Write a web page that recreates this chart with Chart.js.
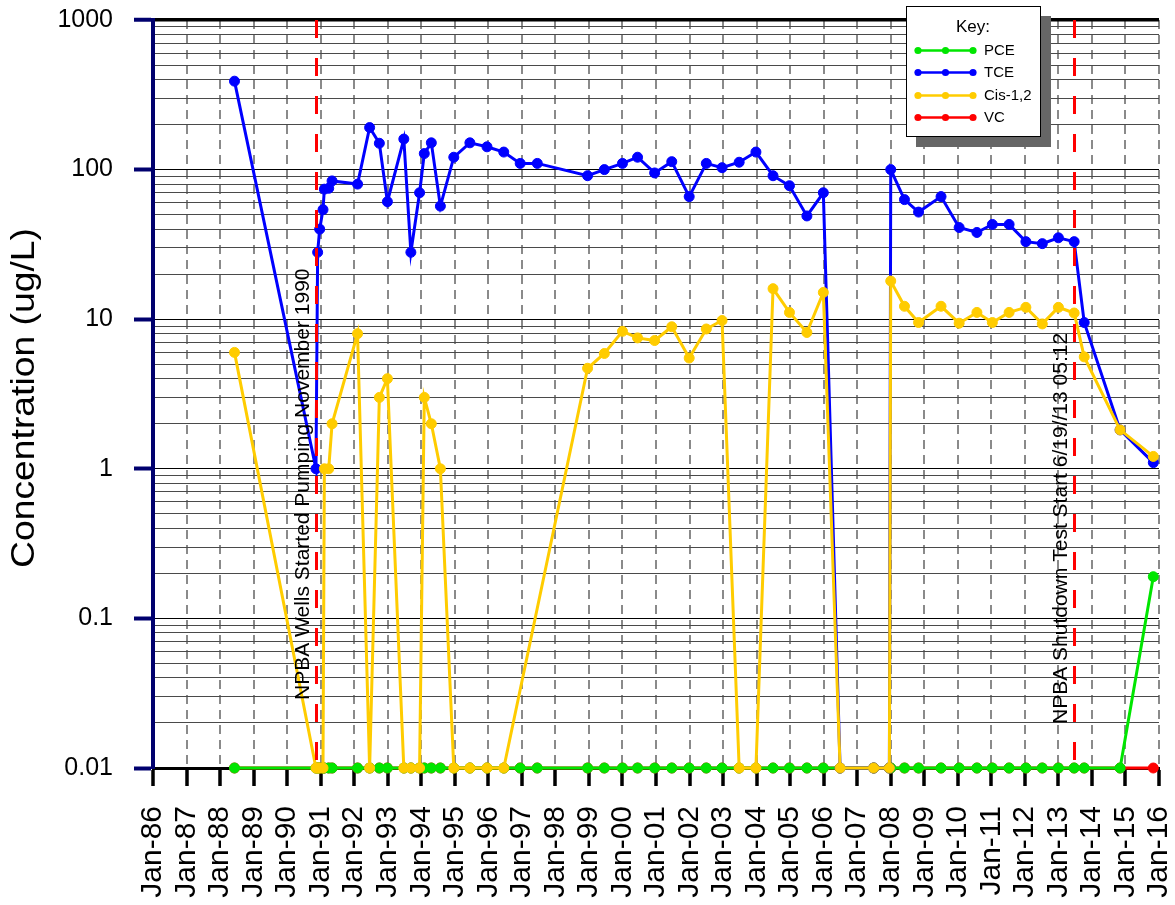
<!DOCTYPE html>
<html><head><meta charset="utf-8">
<script src="https://cdn.jsdelivr.net/npm/chart.js@4.4.1/dist/chart.umd.min.js"></script>
<style>html,body{margin:0;padding:0;background:#fff;}canvas{display:block;}</style>
</head><body>
<canvas id="c" width="1175" height="905" style="width:1175px;height:905px"></canvas>
<script>
// ---- data (decimal years) ----
const sampleDates = [1988.43, 1990.86, 1990.91, 1990.97, 1991.07, 1991.11, 1991.24, 1991.34, 1992.10, 1992.46,
  1992.75, 1992.99, 1993.48, 1993.69, 1993.95, 1994.09, 1994.30, 1994.57, 1994.97, 1995.45,
  1995.96, 1996.46, 1996.95, 1997.46, 1998.96, 1999.46, 2000.00, 2000.45, 2000.96, 2001.47,
  2001.99, 2002.50, 2002.97, 2003.48, 2003.98, 2004.49, 2004.98, 2005.50, 2005.99, 2006.49,
  2007.49, 2007.96, 2008.00, 2008.41, 2008.83, 2009.50, 2010.04, 2010.57, 2011.03, 2011.53,
  2012.03, 2012.52, 2013.00, 2013.47, 2013.77, 2014.84, 2015.83];
const pceValues = [0.01, 0.01, 0.01, 0.01, 0.01, 0.01, 0.01, 0.01, 0.01, 0.01,
  0.01, 0.01, 0.01, 0.01, 0.01, 0.01, 0.01, 0.01, 0.01, 0.01,
  0.01, 0.01, 0.01, 0.01, 0.01, 0.01, 0.01, 0.01, 0.01, 0.01,
  0.01, 0.01, 0.01, 0.01, 0.01, 0.01, 0.01, 0.01, 0.01, 0.01,
  0.01, 0.01, 0.01, 0.01, 0.01, 0.01, 0.01, 0.01, 0.01, 0.01,
  0.01, 0.01, 0.01, 0.01, 0.01, 0.01, 0.19];
const tceValues = [390, 1.0, 28, 40, 54, 74, 75, 84, 80, 191,
  150, 61, 160, 28, 70, 128, 151, 57, 121, 151,
  142, 131, 110, 110, 91, 100, 110, 121, 95, 113,
  66, 110, 103, 112, 131, 91, 78, 49, 70, 0.01,
  0.01, 0.01, 100, 63, 52, 66, 41, 38, 43, 43,
  33, 32, 35, 33, 9.5, 1.82, 1.1];
const cisValues = [6.0, 0.01, 0.01, 0.01, 0.01, 1.0, 1.0, 2.0, 8.0, 0.01,
  3.0, 4.0, 0.01, 0.01, 0.01, 3.0, 2.0, 1.0, 0.01, 0.01,
  0.01, 0.01, null, null, 4.7, 5.9, 8.3, 7.5, 7.2, 8.9,
  5.5, 8.6, 9.8, 0.01, 0.01, 16, 11.1, 8.15, 15.1, 0.01,
  0.01, 0.01, 18, 12.2, 9.5, 12.2, 9.4, 11.1, 9.5, 11.1,
  12, 9.3, 12, 11, 5.6, 1.82, 1.21];
const vcValues = [0.01, 0.01, 0.01, 0.01, 0.01, 0.01, 0.01, 0.01, 0.01, 0.01,
  0.01, 0.01, 0.01, 0.01, 0.01, 0.01, 0.01, 0.01, 0.01, 0.01,
  0.01, 0.01, 0.01, 0.01, 0.01, 0.01, 0.01, 0.01, 0.01, 0.01,
  0.01, 0.01, 0.01, 0.01, 0.01, 0.01, 0.01, 0.01, 0.01, 0.01,
  0.01, 0.01, 0.01, 0.01, 0.01, 0.01, 0.01, 0.01, 0.01, 0.01,
  0.01, 0.01, 0.01, 0.01, 0.01, 0.01, 0.01];
const seriesNames = ['PCE', 'TCE', 'Cis-1,2', 'VC'];
const xTickLabels = ['Jan-86','Jan-87','Jan-88','Jan-89','Jan-90','Jan-91','Jan-92','Jan-93','Jan-94','Jan-95',
  'Jan-96','Jan-97','Jan-98','Jan-99','Jan-00','Jan-01','Jan-02','Jan-03','Jan-04','Jan-05',
  'Jan-06','Jan-07','Jan-08','Jan-09','Jan-10','Jan-11','Jan-12','Jan-13','Jan-14','Jan-15','Jan-16'];
const yTickLabels = ['0.01', '0.1', '1', '10', '100', '1000'];
const eventDates = [1990.85, 2013.47];
const eventLabels = ['NPBA Wells Started Pumping November 1990', 'NPBA Shutdown Test Start 6/19//13 05:12'];
const yAxisTitle = 'Concentration (ug/L)';
const legendTitle = 'Key:';

const FONT = '"Liberation Sans", Arial, Helvetica, sans-serif';
Chart.defaults.font.family = FONT;

function toPoints(vals) {
  const out = [];
  vals.forEach((v, i) => { if (v !== null) out.push({x: sampleDates[i], y: v}); });
  return out;
}
const colors = ['#00e600', '#0000ff', '#ffcc00', '#ff0000'];
const allValues = [pceValues, tceValues, cisValues, vcValues];
const drawOrder = [2, 1, 0, 3];

const datasets = seriesNames.map((name, i) => ({
  label: name,
  data: toPoints(allValues[i]),
  borderColor: colors[i],
  backgroundColor: colors[i],
  pointBackgroundColor: colors[i],
  pointBorderColor: colors[i],
  pointRadius: 5,
  pointBorderWidth: 1,
  borderWidth: 3,
  tension: 0,
  spanGaps: true,
  clip: false,
  order: drawOrder[i]
}));

function isDecade(v) {
  const l = Math.log10(v);
  return Math.abs(l - Math.round(l)) < 1e-6;
}

const overlay = {
  id: 'overlay',
  afterDatasetsDraw(chart) {
    const {ctx, chartArea: a, scales: {x}} = chart;
    const textBottoms = [700, 724];
    ctx.save();
    eventDates.forEach((d, i) => {
      const px = Math.round(x.getPixelForValue(d)) + 0.5;
      ctx.strokeStyle = '#ff0000';
      ctx.lineWidth = 3;
      ctx.setLineDash([18, 20]);
      ctx.beginPath();
      ctx.moveTo(px, a.top);
      ctx.lineTo(px, a.bottom);
      ctx.stroke();
      ctx.setLineDash([]);
      ctx.save();
      ctx.translate(px - 7.5, textBottoms[i]);
      ctx.rotate(-Math.PI / 2);
      ctx.font = '21px ' + FONT;
      ctx.fillStyle = '#000';
      ctx.textAlign = 'left';
      ctx.textBaseline = 'alphabetic';
      ctx.fillText(eventLabels[i], 0, 0);
      ctx.restore();
    });
    ctx.restore();
  },
  afterDraw(chart) {
    const ctx = chart.ctx;
    ctx.save();
    // y axis title (slightly stretched like the original)
    ctx.save();
    ctx.translate(34, 398);
    ctx.rotate(-Math.PI / 2);
    ctx.font = '33px ' + FONT;
    const w = ctx.measureText(yAxisTitle).width;
    ctx.scale(340 / w, 1);
    ctx.fillStyle = '#000';
    ctx.textAlign = 'center';
    ctx.textBaseline = 'alphabetic';
    ctx.fillText(yAxisTitle, 0, 0);
    ctx.restore();

    // key box
    ctx.fillStyle = '#666666';
    ctx.fillRect(916, 16, 135, 131);
    ctx.fillStyle = '#ffffff';
    ctx.fillRect(906, 6, 135, 131);
    ctx.strokeStyle = '#000';
    ctx.lineWidth = 1;
    ctx.strokeRect(906.5, 6.5, 134, 130);
    ctx.fillStyle = '#000';
    ctx.font = '17px ' + FONT;
    ctx.textAlign = 'center';
    ctx.textBaseline = 'middle';
    ctx.fillText(legendTitle, 973, 27);
    const rows = [50.5, 72.5, 95.5, 117.5];
    chart.data.datasets.forEach((ds, i) => {
      const y = rows[i];
      ctx.strokeStyle = ds.borderColor;
      ctx.lineWidth = 2.5;
      ctx.beginPath();
      ctx.moveTo(918, y);
      ctx.lineTo(973, y);
      ctx.stroke();
      ctx.fillStyle = ds.borderColor;
      [918, 945.5, 973].forEach(cx => {
        ctx.beginPath();
        ctx.arc(cx, y, 3.6, 0, Math.PI * 2);
        ctx.fill();
      });
      ctx.fillStyle = '#000';
      ctx.font = '15px ' + FONT;
      ctx.textAlign = 'left';
      ctx.textBaseline = 'middle';
      ctx.fillText(ds.label, 984, y + 0.5);
    });
    ctx.restore();
  }
};

new Chart(document.getElementById('c'), {
  type: 'line',
  data: {datasets},
  options: {
    responsive: false,
    animation: false,
    devicePixelRatio: 1,
    layout: {padding: {top: 20, right: 16, left: 0, bottom: 0}},
    plugins: {legend: {display: false}, tooltip: {enabled: false}},
    scales: {
      x: {
        type: 'linear',
        min: 1986,
        max: 2016,
        afterFit(s) { s.height = 137; s.paddingLeft = 0; s.paddingRight = 0; },
        ticks: {
          stepSize: 1,
          autoSkip: false,
          maxRotation: 90,
          minRotation: 90,
          padding: 20,
          color: '#000',
          font: {size: 30, family: FONT},
          callback: (v) => xTickLabels[Math.round(v) - 1986]
        },
        grid: {color: '#8a8a8a', lineWidth: 2, tickColor: '#000', tickWidth: 3.5, tickLength: 18},
        border: {display: true, color: '#000', width: 3, dash: [9, 6]}
      },
      y: {
        type: 'logarithmic',
        min: 0.01,
        max: 1000,
        afterFit(s) { s.width = 153; s.paddingTop = 0; s.paddingBottom = 0; },
        afterBuildTicks(s) {
          const t = [];
          for (let e = -2; e <= 2; e++) {
            for (let m = 1; m <= 9; m++) t.push({value: Number((m * Math.pow(10, e)).toPrecision(6))});
          }
          t.push({value: 1000});
          s.ticks = t;
        },
        ticks: {
          autoSkip: false,
          padding: 21,
          color: '#000',
          font: {size: 25, family: FONT},
          callback: (v) => isDecade(v) ? yTickLabels[Math.round(Math.log10(v)) + 2] : ''
        },
        grid: {
          color: (c) => (c.tick && isDecade(c.tick.value)) ? '#000' : '#4a4a4a',
          lineWidth: (c) => (c.tick && c.tick.value === 1000) ? 3.5 : 1,
          tickColor: (c) => (c.tick && isDecade(c.tick.value)) ? '#00006e' : 'rgba(0,0,0,0)',
          tickWidth: 4,
          tickLength: 19
        },
        border: {display: true, color: '#00006e', width: 4}
      }
    }
  },
  plugins: [overlay]
});
</script>
</body></html>
